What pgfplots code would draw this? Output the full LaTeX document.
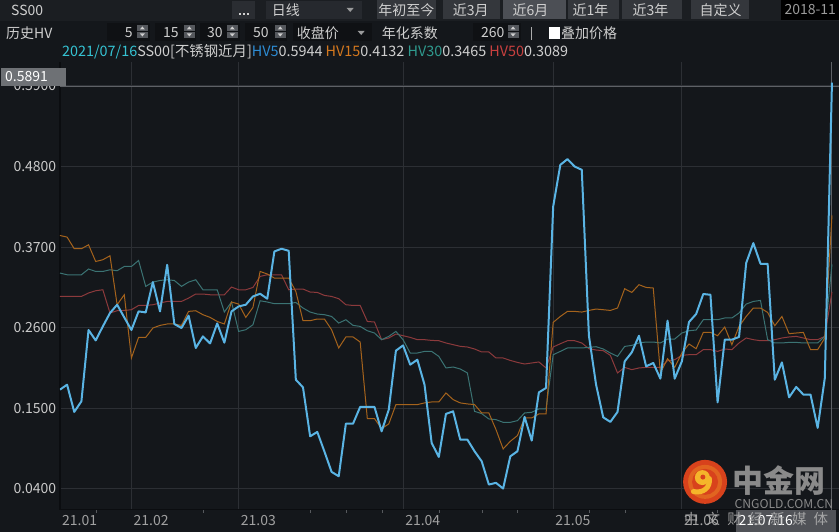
\documentclass[border=0pt]{standalone}
\usepackage{pgfplots}
\pgfplotsset{compat=1.18}
\usepackage{pgfplotstable}
\usepackage{fontspec}
\newfontfamily\cjk{Noto Sans CJK SC}

\definecolor{bg}{HTML}{14171B}
\definecolor{bar}{HTML}{1B1E22}
\definecolor{btn}{HTML}{34373C}
\definecolor{btnsel}{HTML}{4C4F55}
\definecolor{field}{HTML}{0F1114}
\definecolor{spinc}{HTML}{55585D}
\definecolor{txt}{HTML}{CFCFCF}
\definecolor{gridc}{HTML}{2C2F34}
\definecolor{axisc}{HTML}{0B0D10}
\definecolor{crossc}{HTML}{5E6166}
\definecolor{hvblue}{HTML}{5AB4E4}
\definecolor{hvorange}{HTML}{A5631C}
\definecolor{hvteal}{HTML}{3B7373}
\definecolor{hvred}{HTML}{8C3A3C}
\definecolor{lgdate}{HTML}{35C3D3}
\definecolor{lgblue}{HTML}{2D8CD4}
\definecolor{lgorange}{HTML}{D4781E}
\definecolor{lgteal}{HTML}{2F9A8E}
\definecolor{lgred}{HTML}{C8403F}
\definecolor{wmred}{HTML}{D8421C}
\definecolor{wmyellow}{HTML}{F5B52A}
\definecolor{wmgray}{HTML}{8A8A8A}

% historical volatility, day index from 2021-01 to 2021-07-16
\pgfplotstableread{
x hv5 hv15 hv30 hv50
0 0.1754 0.3858 0.3345 0.3026
1 0.1822 0.3836 0.3322 0.3026
2 0.1450 0.3677 0.3322 0.3026
3 0.1594 0.3677 0.3322 0.3026
4 0.2568 0.3731 0.3400 0.3073
5 0.2426 0.3503 0.3367 0.3104
6 0.2617 0.3527 0.3367 0.3117
7 0.2800 0.3581 0.3390 0.2800
8 0.2913 0.2913 0.3377 0.2831
9 0.2740 0.3049 0.3435 0.2835
10 0.2568 0.2186 0.3435 0.2845
11 0.2822 0.2467 0.3517 0.2903
12 0.2808 0.2467 0.3163 0.2903
13 0.3222 0.2595 0.3222 0.2913
14 0.2822 0.2631 0.3244 0.2936
15 0.3458 0.2650 0.3254 0.2958
16 0.2650 0.2650 0.3244 0.2958
17 0.2595 0.2631 0.3163 0.2958
18 0.2763 0.2822 0.3222 0.3004
19 0.2323 0.2831 0.3254 0.3059
20 0.2481 0.2777 0.3117 0.3059
21 0.2385 0.2740 0.3117 0.3049
22 0.2658 0.2685 0.3117 0.3049
23 0.2395 0.2650 0.2813 0.3049
24 0.2822 0.2950 0.2950 0.3154
25 0.2890 0.2922 0.2549 0.3117
26 0.2913 0.2740 0.2572 0.3117
27 0.3026 0.2876 0.2640 0.3149
28 0.3063 0.3367 0.2967 0.3299
29 0.2995 0.3332 0.2950 0.3322
30 0.3640 0.3277 0.2927 0.3322
31 0.3677 0.3277 0.2927 0.3322
32 0.3649 0.3277 0.2927 0.3117
33 0.1890 0.3094 0.2944 0.3127
34 0.1785 0.2695 0.2868 0.3127
35 0.1117 0.2695 0.2813 0.3086
36 0.1177 0.2718 0.2786 0.3081
37 0.0909 0.2718 0.2777 0.3040
38 0.0632 0.2572 0.2753 0.3026
39 0.0572 0.2323 0.2663 0.2995
40 0.1290 0.2473 0.2708 0.2913
41 0.1290 0.2473 0.2631 0.2903
42 0.1518 0.2404 0.2617 0.2903
43 0.1518 0.1359 0.2558 0.2685
44 0.1518 0.1359 0.2527 0.2677
45 0.1185 0.1222 0.2436 0.2436
46 0.1481 0.1286 0.2481 0.2459
47 0.2286 0.1550 0.2549 0.2513
48 0.2358 0.1550 0.2436 0.2490
49 0.2095 0.1550 0.2254 0.2467
50 0.2163 0.1550 0.2254 0.2436
51 0.1822 0.1573 0.2276 0.2436
52 0.1027 0.1586 0.2276 0.2426
53 0.0836 0.1586 0.2208 0.2422
54 0.1423 0.1709 0.2050 0.2391
55 0.1458 0.1618 0.2063 0.2368
56 0.1072 0.1573 0.2036 0.2345
57 0.1072 0.1559 0.1982 0.2336
58 0.0913 0.1550 0.1458 0.2309
59 0.0776 0.1436 0.1427 0.2268
60 0.0459 0.1436 0.1354 0.2268
61 0.0482 0.1209 0.1345 0.2186
62 0.0404 0.0945 0.1308 0.2186
63 0.0844 0.1049 0.1308 0.2153
64 0.0913 0.1127 0.1331 0.2126
65 0.1382 0.1368 0.1436 0.2104
66 0.1059 0.1368 0.1445 0.2118
67 0.1717 0.1423 0.1491 0.2132
68 0.1777 0.1423 0.1491 0.2050
69 0.4253 0.2672 0.2231 0.2336
70 0.4822 0.2753 0.2276 0.2381
71 0.4900 0.2822 0.2323 0.2422
72 0.4799 0.2822 0.2323 0.2422
73 0.4754 0.2813 0.2323 0.2391
74 0.2490 0.2835 0.2331 0.2313
75 0.1822 0.2854 0.2340 0.2295
76 0.1376 0.2845 0.2309 0.2286
77 0.1314 0.2835 0.2254 0.2222
78 0.1450 0.2868 0.2208 0.1982
79 0.2140 0.3131 0.2344 0.2058
80 0.2263 0.3081 0.2358 0.2027
81 0.2490 0.3186 0.2391 0.2050
82 0.2072 0.3149 0.2404 0.2058
83 0.2118 0.3141 0.2404 0.2058
84 0.1904 0.1982 0.2391 0.2058
85 0.2695 0.2177 0.2445 0.2149
86 0.1904 0.2058 0.2445 0.2163
87 0.2140 0.2254 0.2527 0.2222
88 0.2677 0.2377 0.2558 0.2231
89 0.2786 0.2313 0.2568 0.2231
90 0.3059 0.2535 0.2708 0.2300
91 0.3049 0.2535 0.2708 0.2300
92 0.1581 0.2490 0.2708 0.2276
93 0.2436 0.2609 0.2732 0.2309
94 0.2436 0.2368 0.2732 0.2300
95 0.2473 0.2617 0.2800 0.2391
96 0.3482 0.2753 0.2922 0.2459
97 0.3754 0.2868 0.2958 0.2436
98 0.3472 0.2868 0.2972 0.2422
99 0.3472 0.2808 0.2436 0.2422
100 0.1890 0.2627 0.2391 0.2436
101 0.2126 0.2753 0.2391 0.2459
102 0.1649 0.2518 0.2399 0.2473
103 0.1791 0.2527 0.2399 0.2481
104 0.1686 0.2535 0.2391 0.2459
105 0.1686 0.2300 0.2391 0.2436
106 0.1232 0.2300 0.2391 0.2436
107 0.1913 0.2459 0.2481 0.2481
108 0.5944 0.4132 0.3465 0.3089
}\hvdata

\newcommand{\spinner}[1]{%
  \fill[spinc] (#1,501) rectangle ++(11,6);
  \fill[spinc] (#1,494) rectangle ++(11,6);
  \fill[txt] ({#1+3},502.5) -- ({#1+8},502.5) -- ({#1+5.5},505.5) -- cycle;
  \fill[txt] ({#1+3},498.5) -- ({#1+8},498.5) -- ({#1+5.5},495.5) -- cycle;
}

\begin{document}
\begin{tikzpicture}[x=1pt,y=1pt,
  every node/.style={font=\cjk\fontsize{14}{16}\selectfont, text=txt, inner sep=0pt}]

% page
\fill[bg] (0,0) rectangle (840,532);

% toolbar row 1
\fill[bar] (0,511) rectangle (840,532);
\node[anchor=west] at (11,522) {SS00};
\fill[btn!60!bar] (232,513) rectangle (255,531);
\foreach \d in {239,243,247} \fill[txt] (\d,516.5) rectangle ++(2,2);
\fill[btn!45!bar] (266,513) rectangle (362,531);
\node[anchor=west] at (272,522) {日线};
\fill[txt!70!bar] (347,524) -- (354,524) -- (350.5,520) -- cycle;
\fill[btn] (377,513) rectangle (436,532);
\node[anchor=west] at (378.5,522) {年初至今};
\fill[btn] (443,513) rectangle (500,532);
\node[anchor=west] at (453,522) {近3月};
\fill[btnsel] (503,513) rectangle (566,532);
\node[anchor=west] at (513,522) {近6月};
\fill[btn] (569,513) rectangle (620,532);
\node[anchor=west] at (573,522) {近1年};
\fill[btn] (623,513) rectangle (683,532);
\node[anchor=west] at (633,522) {近3年};
\fill[btn] (692,513) rectangle (750,532);
\node[anchor=west] at (700,522) {自定义};
\fill[black] (782,512) rectangle (840,532);
\node[anchor=west, text=txt!75!black] at (785,522) {2018-11};

% toolbar row 2
\node[anchor=west] at (6,499) {历史HV};
\fill[field] (107,491) rectangle (150,509);
\node[anchor=east] at (133,499) {5};
\spinner{137}
\fill[field] (155,491) rectangle (196,509);
\node[anchor=east] at (179,499) {15};
\spinner{184}
\fill[field] (200,491) rectangle (240,509);
\node[anchor=east] at (223,499) {30};
\spinner{227}
\fill[field] (245,491) rectangle (287,509);
\node[anchor=east] at (269,499) {50};
\spinner{275}
\fill[field] (293,491) rectangle (372,509);
\node[anchor=west] at (297,499) {收盘价};
\fill[txt!70!bar] (358,501) -- (365,501) -- (361.5,497) -- cycle;
\node[anchor=west] at (382,499) {年化系数};
\fill[field] (473,491) rectangle (521,509);
\node[anchor=east] at (505,499) {260};
\spinner{508}
\fill[txt!80!bar] (531,492) rectangle (532.5,505);
\fill[white] (549.5,493) rectangle (560.5,504.5);
\node[anchor=west] at (561.5,499) {叠加价格};

% legend line
\node[anchor=west, font=\cjk\fontsize{14.4}{16}\selectfont] at (62,480)
  {\textcolor{lgdate}{2021/07/16}SS00[不锈钢近月]\textcolor{lgblue}{HV5}0.5944
   \textcolor{lgorange}{HV15}0.4132 \textcolor{lgteal}{HV30}0.3465
   \textcolor{lgred}{HV50}0.3089};

\begin{axis}[
  at={(60pt,22pt)}, anchor=south west,
  scale only axis, width=780pt, height=448pt,
  xmin=0, xmax=109.02,
  ymin=0.01178, ymax=0.62263,
  axis x line*=bottom, axis y line*=left,
  axis line style={-, draw=axisc, line width=1.5pt},
  xtick={0,10,25,48,69,87},
  xticklabels={21.01,21.02,21.03,21.04,21.05,21.06},
  ytick={0.04,0.15,0.26,0.37,0.48,0.59},
  yticklabels={0.0400,0.1500,0.2600,0.3700,0.4800,0.5900},
  minor xtick={5,20,35,40,45,53,59,64,74,79,92,97,102},
  major tick length=0pt, minor tick length=3pt,
  xtick align=outside,
  minor tick style={draw=gridc!80!white},
  grid=major, grid style={draw=gridc, line width=1pt},
  xticklabel style={font=\cjk\fontsize{14}{16}\selectfont, text=txt!78!black,
    anchor=west, inner sep=0pt, xshift=2pt, yshift=-10.5pt},
  yticklabel style={font=\cjk\fontsize{14}{16}\selectfont, text=txt!110,
    anchor=east, inner sep=0pt, xshift=-3.5pt},
  extra x ticks={108}, extra x tick labels={},
  extra y ticks={0.5891}, extra y tick labels={},
  extra tick style={grid style={draw=crossc, line width=1pt}},
  clip=true,
]
\addplot[hvred, line width=1pt] table[x=x, y=hv50] {\hvdata};
\addplot[hvteal, line width=1pt] table[x=x, y=hv30] {\hvdata};
\addplot[hvorange, line width=1pt] table[x=x, y=hv15] {\hvdata};
\addplot[hvblue, line width=2pt, line join=round] table[x=x, y=hv5] {\hvdata};
\end{axis}

% crosshair value box
\fill[crossc!90!white] (1,446) rectangle (66,464);
\node[anchor=west, text=white] at (5,455) {0.5891};

% watermark logo
\fill[wmred] (705.7,49.7) circle (22);
\fill[wmred!70!wmyellow] (705.7,49.7) circle (17);
\fill[wmred] (705.7,49.7) circle (13);
\fill[wmyellow] (703,54) circle (7.5);
\draw[wmyellow, line width=5pt, line cap=round] (710,53) .. controls (711,44) and (704,38) .. (694,40);
\fill[wmred] (703.5,54.5) circle (2.5);
\node[anchor=west, text=wmgray, font=\cjk\bfseries\fontsize{31}{33}\selectfont] at (733,51) {中金网};
\node[anchor=west, text=wmgray, font=\cjk\fontsize{12.2}{14}\selectfont] at (735,28) {CNGOLD.COM.CN};

% crosshair date box
\fill[crossc!85!black] (737,0) rectangle (837,22);
\node[anchor=west, text=white] at (739,11) {21.07.16};

% watermark slogan over the date box
\foreach \c [count=\i from 0] in {中,文,财,经,新,媒,体}
  \node[text=wmgray!70!white, opacity=0.9, font=\cjk\fontsize{14.5}{16}\selectfont] at (692+\i*21.6,13) {\c};
\end{tikzpicture}
\end{document}
